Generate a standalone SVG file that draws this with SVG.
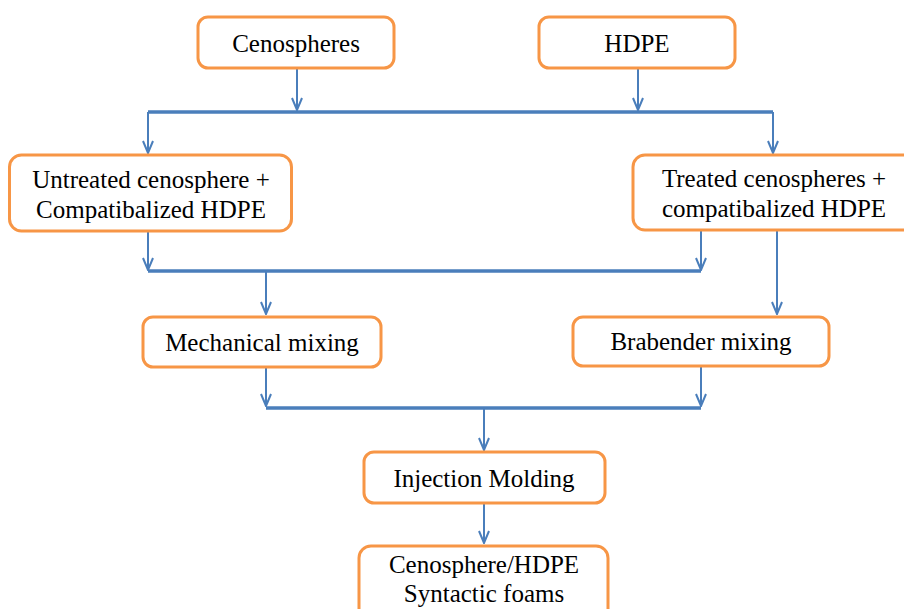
<svg xmlns="http://www.w3.org/2000/svg" width="904" height="609" viewBox="0 0 904 609">
<style>
.box{fill:#fff;stroke:#f79646;stroke-width:3}
.t{font-family:"Liberation Serif","Times New Roman",serif;font-size:25px;fill:#000;text-anchor:middle}
.v{stroke:#4a7ebb;stroke-width:2;fill:none}
.h{stroke:#4a7ebb;stroke-width:3.5;fill:none}
</style>
<defs>
<marker id="ah" viewBox="0 0 14 12" refX="13" refY="6" markerWidth="14" markerHeight="12" markerUnits="userSpaceOnUse" orient="auto">
<path d="M1,1 L13,6 L1,11" fill="none" stroke="#4a7ebb" stroke-width="2"/>
</marker>
</defs>
<rect width="904" height="609" fill="#fff"/>
<g id="connectors">
<line class="v" x1="297" y1="68" x2="297" y2="110" marker-end="url(#ah)"/>
<line class="v" x1="638" y1="68" x2="638" y2="110" marker-end="url(#ah)"/>
<polyline class="h" points="148,112 773,112"/>
<line class="v" x1="148" y1="112" x2="148" y2="153" marker-end="url(#ah)"/>
<line class="v" x1="773" y1="112" x2="773" y2="153" marker-end="url(#ah)"/>
<line class="v" x1="148" y1="231" x2="148" y2="270" marker-end="url(#ah)"/>
<line class="v" x1="701" y1="230" x2="701" y2="270" marker-end="url(#ah)"/>
<polyline class="h" points="148,271 701,271"/>
<line class="v" x1="266" y1="271" x2="266" y2="314" marker-end="url(#ah)"/>
<line class="v" x1="777" y1="230" x2="777" y2="314" marker-end="url(#ah)"/>
<line class="v" x1="266" y1="367" x2="266" y2="406" marker-end="url(#ah)"/>
<line class="v" x1="701" y1="366" x2="701" y2="406" marker-end="url(#ah)"/>
<polyline class="h" points="266,408 701,408"/>
<line class="v" x1="484" y1="408" x2="484" y2="450" marker-end="url(#ah)"/>
<line class="v" x1="484" y1="503" x2="484" y2="543" marker-end="url(#ah)"/>
</g>
<g id="cenospheres">
<rect class="box" x="198" y="17" width="196" height="51" rx="10"/>
<text class="t" x="296" y="52">Cenospheres</text>
</g>
<g id="hdpe">
<rect class="box" x="539" y="17" width="196" height="51" rx="10"/>
<text class="t" x="637" y="52">HDPE</text>
</g>
<g id="untreated">
<rect class="box" x="9.5" y="155" width="282" height="76" rx="12"/>
<text class="t" x="151" y="188">Untreated cenosphere +</text>
<text class="t" x="151" y="218">Compatibalized HDPE</text>
</g>
<g id="treated">
<rect class="box" x="633" y="155" width="300" height="75" rx="12"/>
<text class="t" x="774" y="187">Treated cenospheres +</text>
<text class="t" x="774" y="217">compatibalized HDPE</text>
</g>
<g id="mechanical">
<rect class="box" x="143" y="317" width="238" height="50" rx="10"/>
<text class="t" x="262" y="351">Mechanical mixing</text>
</g>
<g id="brabender">
<rect class="box" x="573" y="317" width="256" height="49" rx="10"/>
<text class="t" x="701" y="350">Brabender mixing</text>
</g>
<g id="injection">
<rect class="box" x="364" y="452" width="241" height="51" rx="10"/>
<text class="t" x="484" y="487">Injection Molding</text>
</g>
<g id="foams">
<rect class="box" x="359" y="546" width="249" height="80" rx="12"/>
<text class="t" x="484" y="573">Cenosphere/HDPE</text>
<text class="t" x="484" y="602">Syntactic foams</text>
</g>
</svg>
